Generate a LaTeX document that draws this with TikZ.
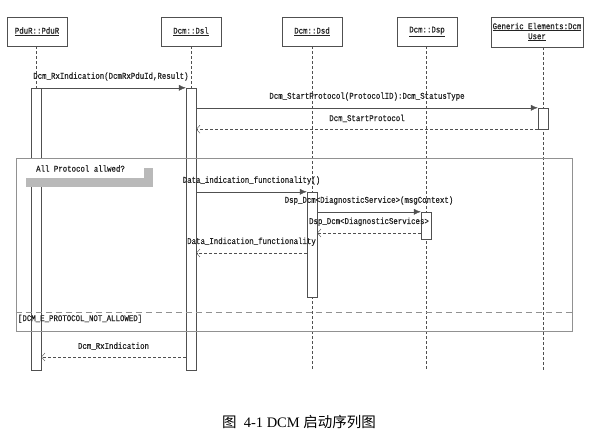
\documentclass[tikz,border=0pt]{standalone}
\usepackage{fontspec}
\setmainfont{Liberation Serif}
\newfontfamily\umlfont[FakeStretch=0.84, FakeBold=0.6]{Liberation Mono}
\newfontfamily\cjk{Noto Sans CJK SC}
\usepackage{tikz}
\usetikzlibrary{arrows.meta, positioning, shadows}
\definecolor{linegray}{RGB}{80,80,80}
\definecolor{framegray}{RGB}{145,145,145}
\definecolor{notegray}{RGB}{185,185,185}
\definecolor{textdark}{RGB}{35,35,35}

\begin{document}
\begin{tikzpicture}[
    x=1pt, y=-1pt,
    head/.style={rectangle, draw=linegray, fill=white, minimum width=60pt, minimum height=29pt,
                 font=\fontsize{8.8}{10}\umlfont, text=textdark, align=center, inner sep=1pt},
    act/.style={rectangle, draw=linegray, fill=white, minimum width=10pt, inner sep=0pt},
    life/.style={draw=linegray, dash pattern=on 3pt off 2pt},
    msg/.style={-{Latex[length=7pt, width=6pt]}, draw=linegray},
    ret/.style={-{Straight Barb[length=3.5pt, width=8pt]}, draw=linegray, dash pattern=on 3pt off 2pt},
    lbl/.style={font=\fontsize{8.8}{10}\umlfont, text=textdark, inner sep=1pt},
    note/.style={rectangle, fill=white, minimum width=127pt, minimum height=19pt,
                 font=\fontsize{8.8}{10}\umlfont, text=textdark,
                 drop shadow={shadow xshift=9pt, shadow yshift=-9pt, fill=notegray, opacity=1}}
]
\useasboundingbox (0,0) rectangle (612,437);

% Lifeline heads
\node[head] (hPdu) at (37,31.5) {\underline{PduR::PduR}};
\node[head] (hDsl) at (191,31.5) {\underline{Dcm::Dsl}};
\node[head] (hDsd) at (312,31.5) {\underline{Dcm::Dsd}};
\node[head] (hDsp) at (427,31.5) {\underline{Dcm::Dsp}};
\node[head, minimum width=92pt, minimum height=30pt] (hUser) at (537,32)
    {\underline{Generic Elements:Dcm}\\\underline{User}};

% Lifelines
\coordinate (lifeEnd) at (0,370);
\draw[life] ([xshift=-1pt]hPdu.south) -- ([xshift=-1pt]hPdu.south |- lifeEnd);
\draw[life] (hDsl.south) -- (hDsl |- lifeEnd);
\draw[life] (hDsd.south) -- (hDsd |- lifeEnd);
\draw[life] ([xshift=-1pt]hDsp.south) -- ([xshift=-1pt]hDsp.south |- lifeEnd);
\draw[life] ([xshift=6pt]hUser.south) -- ([xshift=6pt]hUser.south |- lifeEnd);

% Activations
\node[act, minimum height=282pt] (aPdu) at (36,229) {};
\node[act, minimum height=282pt] (aDsl) at (191,229) {};
\node[act, minimum height=21pt] (aUser) at (543,118.5) {};
\node[act, minimum height=105pt] (aDsd) at (312,244.5) {};
\node[act, minimum height=27pt] (aDsp) at (426,225.5) {};

% Combined fragment
\node[rectangle, draw=framegray, minimum width=556pt, minimum height=173pt, inner sep=0pt]
    (frag) at (294,244.5) {};
\node[note] (cond) at (80.5,168.5) {All Protocol allwed?};
\coordinate (sep) at (0,312);
\draw[draw=framegray, dash pattern=on 6pt off 4pt] (frag.west |- sep) -- (frag.east |- sep);
\node[lbl, anchor=north west] (guard) at ([xshift=1pt, yshift=-1.5pt]frag.west |- sep)
    {[DCM\_E\_PROTOCOL\_NOT\_ALLOWED]};

% Messages
\draw[msg] (aPdu.north) -- node[lbl, above=6pt] {Dcm\_RxIndication(DcmRxPduId,Result)} (aDsl.north west);
\draw[msg] (aDsl.east |- aUser.north) -- node[lbl, above=6pt] {Dcm\_StartProtocol(ProtocolID):Dcm\_StatusType} (aUser.north west);
\draw[ret] (aUser.south west) -- node[lbl, above=6pt] {Dcm\_StartProtocol} (aDsl.east |- aUser.south);
\draw[msg] (aDsl.east |- aDsd.north) -- node[lbl, above=6pt] {Data\_indication\_functionality()} (aDsd.north west);
\draw[msg] (aDsd.east |- aDsp.north) -- node[lbl, above=6pt] {Dsp\_Dcm<DiagnosticService>(msgContext)} (aDsp.north west);
\coordinate (r2) at (0,233);
\draw[ret] (aDsp.west |- r2) -- node[lbl, above=6pt] {Dsp\_Dcm<DiagnosticServices>} (aDsd.east |- r2);
\coordinate (r3) at (0,253);
\draw[ret] (aDsd.west |- r3) -- node[lbl, above=6pt] {Data\_Indication\_functionality} (aDsl.east |- r3);
\coordinate (r4) at (0,357);
\draw[ret] (aDsl.west |- r4) -- node[lbl, above=6pt] {Dcm\_RxIndication} (aPdu.east |- r4);

% Caption
\node[font=\fontsize{14.5}{16}\selectfont, text=black] (cap) at (299,422)
    {{\cjk 图}\ \ 4-1 DCM {\cjk 启动序列图}};
\end{tikzpicture}
\end{document}
